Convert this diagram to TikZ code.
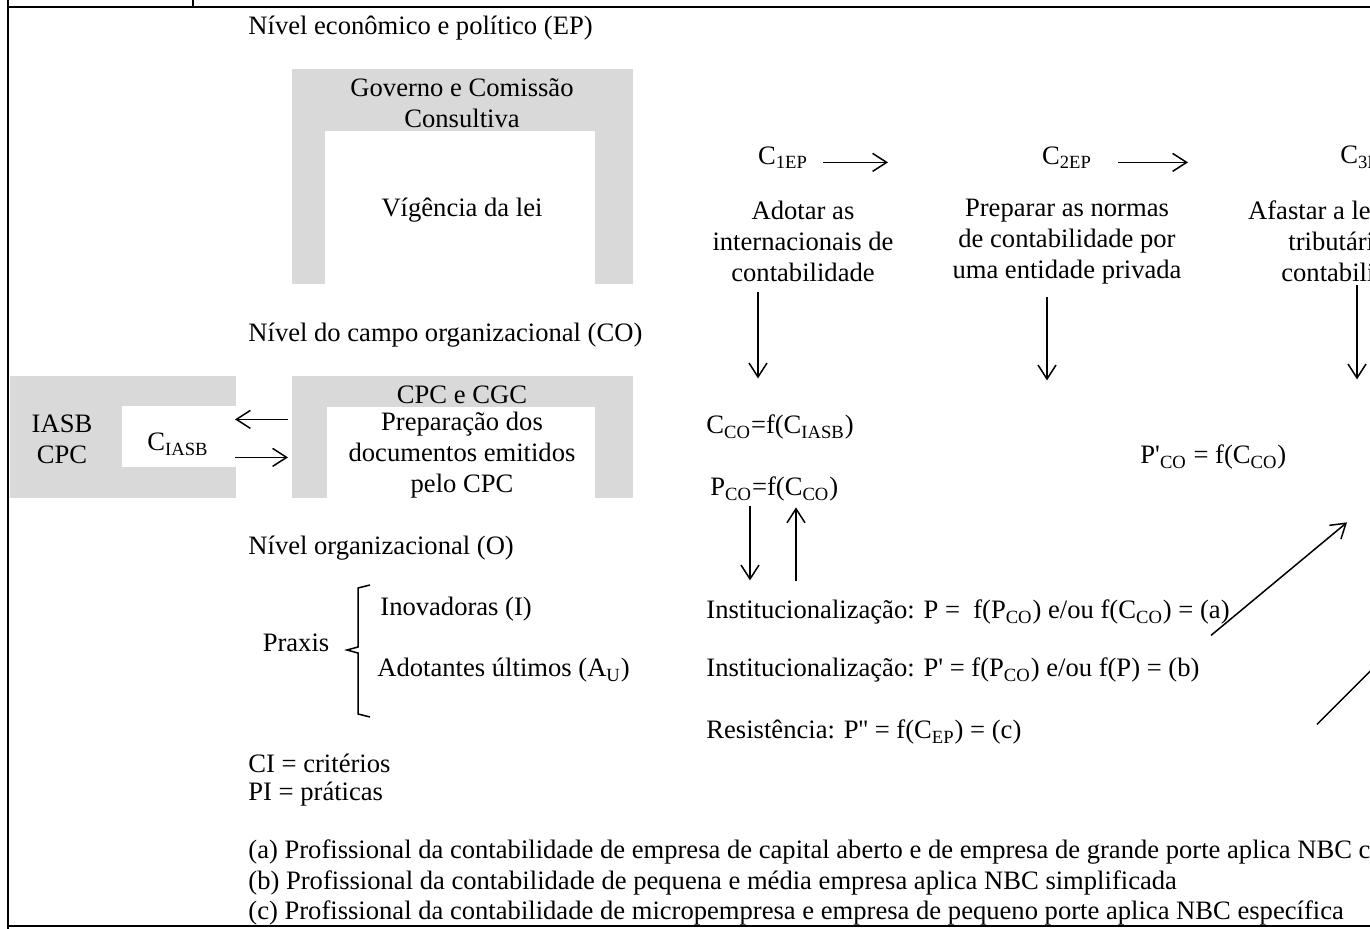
\documentclass[tikz,border=0pt]{standalone}
\usepackage{fontspec}
\setmainfont{Liberation Serif}
\usetikzlibrary{arrows.meta}
\definecolor{boxgray}{RGB}{217,217,217}

\begin{document}
\begin{tikzpicture}[x=0.5pt, y=-0.5pt,
		every node/.style={font=\fontsize{13.3}{15.5}\selectfont, inner sep=0pt, yshift=-1.2pt},
		lbl/.style={anchor=west},
		ctr/.style={align=center},
		arr/.style={line width=0.75pt, -{Straight Barb[length=7pt,width=9pt,line width=0.75pt]}}]
		\useasboundingbox (0,0) rectangle (1370,929);
		\clip (0,0) rectangle (1370,929);
		% frame
		\draw[line width=1pt] (8,0) -- (8,929);
		\draw[line width=1pt] (193,0) -- (193,7);
		\draw[line width=1pt] (8,7) -- (1370,7);
		\draw[line width=1pt] (8,926) -- (1370,926);
		% gray boxes
		\fill[boxgray] (292,69) rectangle (633,284);
		\fill[white] (325,131) rectangle (595,284);
		\fill[boxgray] (10,376) rectangle (236,498);
		\fill[white] (122,406) rectangle (236,467);
		\fill[boxgray] (292,376) rectangle (633,498);
		\fill[white] (327,407) rectangle (595,498);
		% levels
		\node[lbl] (nep) at (248,26) {Nível econômico e político (EP)};
		\node[lbl] (nco) at (248,333) {Nível do campo organizacional (CO)};
		\node[lbl] (no) at (248,546) {Nível organizacional (O)};
		% economic and political level
		\node[ctr] (gov) at (462,101) {Governo e Comissão\\Consultiva};
		\node (lei) at (462,208) {Vígência da lei};
		\node (c1) at (783,155) {C\textsubscript{1EP}};
		\node (c2) at (1067,155) {C\textsubscript{2EP}};
		\node[lbl] (c3) at (1340,155) {C\textsubscript{3EP}};
		\node[ctr] (a1) at (803,239) {Adotar as\\internacionais de\\contabilidade};
		\node[ctr] (a2) at (1067,239) {Preparar as normas\\de contabilidade por\\uma entidade privada};
		\node[ctr] (a3) at (1353,239) {Afastar a legislação\\tributária da\\contabilidade};
		% organizational field level
		\node[ctr] (iasb) at (62,437) {IASB\\CPC};
		\node (ciasb) at (178,442) {C\textsubscript{IASB}};
		\node (cpc) at (462,392) {CPC e CGC};
		\node[ctr] (prep) at (462,453) {Preparação dos\\documentos emitidos\\pelo CPC};
		\node[lbl] (cco) at (706,425) {C\textsubscript{CO}=f(C\textsubscript{IASB})};
		\node[lbl] (pco) at (710,487) {P\textsubscript{CO}=f(C\textsubscript{CO})};
		\node[lbl] (ppco) at (1140,455) {P\textquotesingle\textsubscript{CO} = f(C\textsubscript{CO})};
		% organizational level
		\node (praxis) at (296,640) {Praxis};
		\node[lbl] (inov) at (380,607) {Inovadoras (I)};
		\node[lbl] (adot) at (377,668) {Adotantes últimos (A\textsubscript{U})};
		\node[lbl] (inst1) at (706,610) {Institucionalização: P =\ \ f(P\textsubscript{CO}) e/ou f(C\textsubscript{CO}) = (a)};
		\node[lbl] (inst2) at (706,668) {Institucionalização: P\textquotesingle{} = f(P\textsubscript{CO}) e/ou f(P) = (b)};
		\node[lbl] (resis) at (706,730) {Resistência: P\textquotesingle\textquotesingle{} = f(C\textsubscript{EP}) = (c)};
		\node[lbl] (ci) at (248,761) {CI = critérios};
		\node[lbl] (pi) at (248,792) {PI = práticas};
		% notes
		\node[lbl] (fa) at (248,850) {(a) Profissional da contabilidade de empresa de capital aberto e de empresa de grande porte aplica NBC completa};
		\node[lbl] (fb) at (248,881) {(b) Profissional da contabilidade de pequena e média empresa aplica NBC simplificada};
		\node[lbl] (fc) at (248,911) {(c) Profissional da contabilidade de micropempresa e empresa de pequeno porte aplica NBC específica};
		% brace
		\draw[line width=0.75pt] (370,585) -- (358,588) -- (358,647) -- (347,650) -- (358,653) -- (358,714) -- (370,717);
		% arrow ends
		\coordinate (h1a) at (823,160);
		\coordinate (h1b) at (888,160);
		\coordinate (h2a) at (1118,160);
		\coordinate (h2b) at (1188,160);
		\coordinate (v1a) at (758,290);
		\coordinate (v1b) at (758,376);
		\coordinate (v2a) at (1047,295);
		\coordinate (v2b) at (1047,378);
		\coordinate (v3a) at (1357,283);
		\coordinate (v3b) at (1357,377);
		\coordinate (la) at (288,417);
		\coordinate (lb) at (235,417);
		\coordinate (ra) at (235,455);
		\coordinate (rb) at (288,455);
		\coordinate (pda) at (750,504);
		\coordinate (pdb) at (750,578);
		\coordinate (pua) at (796,579);
		\coordinate (pub) at (796,505);
		\coordinate (d1a) at (1211,633);
		\coordinate (d1b) at (1347,520);
		\coordinate (d2a) at (1317,722);
		\coordinate (d2b) at (1420,619);
		% arrows
		\draw[arr] (h1a) -- (h1b);
		\draw[arr] (h2a) -- (h2b);
		\draw[arr] (v1a) -- (v1b);
		\draw[arr] (v2a) -- (v2b);
		\draw[arr] (v3a) -- (v3b);
		\draw[arr] (la) -- (lb);
		\draw[arr] (ra) -- (rb);
		\draw[arr] (pda) -- (pdb);
		\draw[arr] (pua) -- (pub);
		\draw[arr] (d1a) -- (d1b);
		\draw[arr] (d2a) -- (d2b);
	\end{tikzpicture}
\end{document}
